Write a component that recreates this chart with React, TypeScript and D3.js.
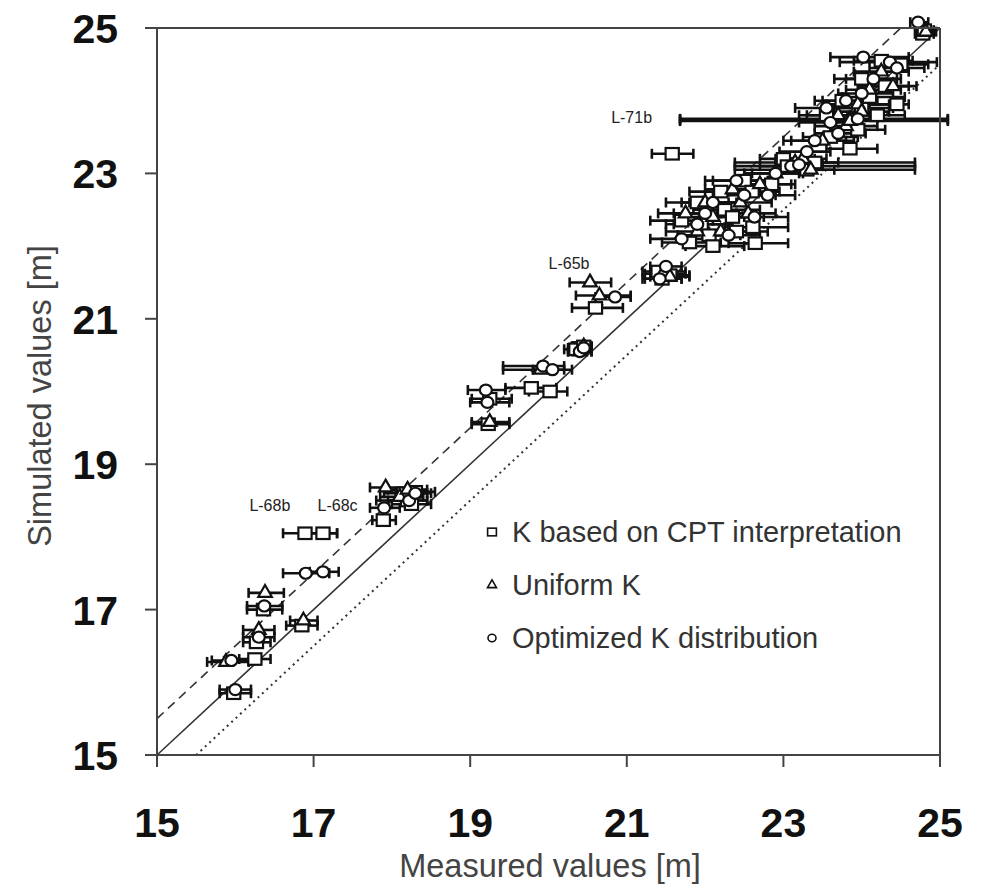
import * as d3 from "d3";

// measured, simulated, error bar low, error bar high (all in m)
type Pt = [number, number, number, number];

const CPT_POINTS: Pt[] = [
  [15.98, 15.85, 15.8, 16.2],
  [16.25, 16.32, 16.05, 16.45],
  [16.27, 16.55, 16.1, 16.45],
  [16.36, 17.0, 16.15, 16.6],
  [16.85, 16.78, 16.65, 17.05],
  [16.89, 18.05, 16.61, 17.3],
  [17.12, 18.05, 16.95, 17.3],
  [17.89, 18.23, 17.75, 18.05],
  [18.2, 18.5, 17.8, 18.45],
  [18.3, 18.62, 18.05, 18.55],
  [18.15, 18.6, 17.9, 18.45],
  [18.25, 18.45, 18.0, 18.5],
  [19.23, 19.55, 19.02, 19.5],
  [19.25, 19.9, 19.02, 19.53],
  [19.78, 20.05, 19.45, 20.1],
  [20.02, 20.0, 19.75, 20.24],
  [20.4, 20.6, 20.25, 20.55],
  [20.35, 20.58, 20.2, 20.5],
  [20.45, 20.62, 20.3, 20.55],
  [20.6, 21.15, 20.3, 20.95],
  [21.45, 21.55, 21.23, 21.7],
  [21.4, 21.65, 21.2, 21.75],
  [21.55, 21.6, 21.3, 21.8],
  [21.58, 23.27, 21.32, 21.85],
  [21.7, 22.35, 21.3, 22.1],
  [21.8, 22.05, 21.45, 22.2],
  [21.9, 22.6, 21.5, 22.3],
  [21.95, 22.3, 21.6, 22.35],
  [22.05, 22.15, 21.65, 22.45],
  [22.1, 22.0, 21.75, 22.5],
  [22.2, 22.75, 21.8, 22.6],
  [22.25, 22.5, 21.85, 22.7],
  [22.35, 22.4, 22.0, 22.75],
  [22.4, 22.2, 22.05, 22.8],
  [22.5, 22.9, 22.1, 22.9],
  [22.61, 22.26, 22.25, 23.06],
  [22.64, 22.04, 22.3, 23.06],
  [22.6, 22.75, 22.3, 22.95],
  [22.85, 22.85, 22.55, 23.15],
  [23.0, 23.2, 22.7, 23.4],
  [23.05, 23.1, 22.7, 23.45],
  [23.2, 23.1, 22.9, 23.5],
  [23.3, 23.05, 22.38, 24.68],
  [23.4, 23.15, 23.1, 23.7],
  [23.55, 23.8, 23.2, 23.95],
  [23.6, 23.5, 23.25, 23.95],
  [23.75, 24.0, 23.4, 24.15],
  [23.85, 23.34, 23.55, 24.2],
  [23.9, 23.74, 21.68, 25.1],
  [23.95, 23.6, 23.6, 24.3],
  [24.0, 23.9, 23.65, 24.4],
  [24.0, 24.3, 23.65, 24.45],
  [24.1, 24.05, 23.75, 24.55],
  [24.2, 23.8, 23.85, 24.55],
  [24.25, 24.55, 23.9, 24.65],
  [24.3, 24.2, 23.95, 24.6],
  [24.45, 23.95, 24.1, 24.6],
  [24.5, 24.5, 24.2, 24.85],
  [24.78, 24.92, 24.68, 24.92],
  [24.8, 24.97, 24.7, 24.92],
];

const UNIFORM_POINTS: Pt[] = [
  [15.88, 16.28, 15.64, 16.17],
  [16.3, 16.72, 16.1, 16.5],
  [16.38, 17.23, 16.17, 16.62],
  [16.87, 16.85, 16.7, 17.05],
  [17.92, 18.68, 17.72, 18.2],
  [18.1, 18.55, 17.85, 18.4],
  [18.2, 18.65, 17.95, 18.45],
  [19.25, 19.58, 19.02, 19.5],
  [19.9, 20.3, 19.42, 20.2],
  [20.4, 20.55, 20.25, 20.55],
  [20.45, 20.62, 20.3, 20.55],
  [20.53, 21.5, 20.27, 20.8],
  [20.65, 21.32, 20.35, 21.05],
  [21.46, 21.62, 21.23, 21.75],
  [21.55, 21.58, 21.3, 21.8],
  [21.75, 22.45, 21.4, 22.15],
  [21.9, 22.2, 21.5, 22.3],
  [22.0, 22.6, 21.7, 22.4],
  [22.1, 22.4, 21.7, 22.5],
  [22.2, 22.2, 21.9, 22.6],
  [22.35, 22.78, 22.0, 22.7],
  [22.45, 22.6, 22.1, 22.85],
  [22.55, 22.45, 22.2, 22.9],
  [22.7, 22.85, 22.4, 23.1],
  [22.9, 23.0, 22.6, 23.2],
  [23.15, 23.15, 22.38, 24.68],
  [23.25, 23.2, 22.9, 23.55],
  [23.35, 23.05, 23.0, 23.65],
  [23.5, 23.45, 23.1, 23.9],
  [23.7, 23.8, 23.3, 24.1],
  [23.8, 23.65, 23.4, 24.2],
  [23.85, 23.72, 21.68, 25.1],
  [23.95, 23.95, 23.55, 24.35],
  [24.0, 23.85, 23.7, 24.35],
  [24.1, 24.15, 23.8, 24.5],
  [24.25, 24.4, 23.9, 24.6],
  [24.4, 24.2, 24.05, 24.7],
  [24.82, 24.95, 24.72, 24.95],
];

const OPTIMIZED_POINTS: Pt[] = [
  [16.0, 15.9, 15.8, 16.2],
  [15.95, 16.3, 15.7, 16.2],
  [16.3, 16.62, 16.1, 16.5],
  [16.37, 17.05, 16.15, 16.6],
  [16.9, 17.5, 16.61, 17.2],
  [17.12, 17.52, 16.95, 17.32],
  [17.9, 18.4, 17.72, 18.1],
  [18.22, 18.5, 17.95, 18.45],
  [18.3, 18.6, 18.05, 18.5],
  [19.2, 20.02, 18.97, 19.45],
  [19.22, 19.85, 19.0, 19.5],
  [19.93, 20.35, 19.42, 20.2],
  [20.05, 20.3, 19.8, 20.3],
  [20.4, 20.55, 20.25, 20.55],
  [20.45, 20.6, 20.3, 20.55],
  [20.85, 21.3, 20.6, 21.05],
  [21.42, 21.55, 21.2, 21.7],
  [21.5, 21.72, 21.3, 21.7],
  [21.7, 22.1, 21.3, 22.1],
  [21.9, 22.3, 21.5, 22.3],
  [22.0, 22.45, 21.6, 22.4],
  [22.1, 22.6, 21.8, 22.5],
  [22.3, 22.15, 22.0, 22.7],
  [22.4, 22.9, 22.0, 22.8],
  [22.5, 22.7, 22.1, 22.9],
  [22.63, 22.4, 22.3, 23.06],
  [22.8, 22.7, 22.45, 23.15],
  [22.9, 23.0, 22.5, 23.25],
  [23.1, 23.1, 22.38, 24.68],
  [23.2, 23.12, 22.9, 23.5],
  [23.3, 23.3, 22.95, 23.6],
  [23.4, 23.45, 23.0, 23.8],
  [23.55, 23.9, 23.15, 23.95],
  [23.6, 23.7, 23.2, 24.0],
  [23.7, 23.55, 23.4, 24.05],
  [23.8, 24.0, 23.5, 24.2],
  [23.95, 23.75, 21.68, 25.1],
  [24.0, 24.1, 23.7, 24.4],
  [24.02, 24.6, 23.6, 24.6],
  [24.15, 24.3, 23.8, 24.5],
  [24.36, 24.53, 23.72, 24.96],
  [24.45, 24.45, 24.1, 24.8],
  [24.72, 25.08, 24.62, 24.85],
];

const TICKS = [15, 17, 19, 21, 23, 25];

const LEGEND = ["K based on CPT interpretation", "Uniform K", "Optimized K distribution"];

// label text, measured, simulated (position of the text start / baseline)
const ANNOTATIONS: [string, number, number][] = [
  ["L-71b", 20.8, 23.7],
  ["L-65b", 20.0, 21.68],
  ["L-68b", 16.18, 18.35],
  ["L-68c", 17.05, 18.35],
];

const FONT = "'Liberation Sans', Arial, sans-serif";

function Marker({ kind, cx, cy, s, sw }: { kind: number; cx: number; cy: number; s: number; sw: number }) {
  if (kind === 0)
    return <rect x={cx - s * 0.55} y={cy - s * 0.48} width={s * 1.1} height={s * 0.96} fill="#fff" stroke="#111" strokeWidth={sw} />;
  if (kind === 1) {
    const tri = d3.symbol(d3.symbolTriangle, s * s * 0.55)();
    return <path d={tri ?? ""} transform={`translate(${cx},${cy})`} fill="#fff" stroke="#111" strokeWidth={sw} />;
  }
  return <ellipse cx={cx} cy={cy} rx={s * 0.5} ry={s * 0.46} fill="#fff" stroke="#111" strokeWidth={sw} />;
}

export default function App() {
  const width = 981;
  const height = 885;

  const x = d3.scaleLinear().domain([15, 25]).range([157, 940]);
  const y = d3.scaleLinear().domain([15, 25]).range([755, 28]);

  const series = [CPT_POINTS, UNIFORM_POINTS, OPTIMIZED_POINTS];

  const line = d3.line<[number, number]>().x((d) => x(d[0])).y((d) => y(d[1]));

  return (
    <svg
      width={width}
      height={height}
      style={{ position: "absolute", left: 0, top: 0, background: "#fff" }}
      fontFamily={FONT}
    >
      <rect width={width} height={height} fill="#fff" />

      {/* reference lines */}
      <path d={line([[15, 15], [25, 25]]) ?? ""} stroke="#333" strokeWidth={1.6} fill="none" />
      <path d={line([[15, 15.5], [24.5, 25]]) ?? ""} stroke="#333" strokeWidth={1.6} strokeDasharray="9 6" fill="none" />
      <path d={line([[15.5, 15], [25, 24.5]]) ?? ""} stroke="#333" strokeWidth={2} strokeDasharray="2 4" fill="none" />

      {/* error bars */}
      {series.map((pts, si) =>
        pts.map((p, i) => (
          <g key={`e${si}-${i}`} stroke="#111" strokeWidth={2.6}>
            <line x1={x(p[2])} x2={x(p[3])} y1={y(p[1])} y2={y(p[1])} />
            <line x1={x(p[2])} x2={x(p[2])} y1={y(p[1]) - 5} y2={y(p[1]) + 5} />
            <line x1={x(p[3])} x2={x(p[3])} y1={y(p[1]) - 5} y2={y(p[1]) + 5} />
          </g>
        ))
      )}

      {/* markers */}
      {series.map((pts, si) =>
        pts.map((p, i) => <Marker key={`m${si}-${i}`} kind={si} cx={x(p[0])} cy={y(p[1])} s={12} sw={2.2} />)
      )}

      {/* frame */}
      <g stroke="#444" strokeWidth={2} fill="none">
        <line x1={x(15)} x2={x(25)} y1={y(25)} y2={y(25)} />
        <line x1={x(25)} x2={x(25)} y1={y(25)} y2={y(15)} />
        <line x1={x(15)} x2={x(25)} y1={y(15)} y2={y(15)} />
        <line x1={x(15)} x2={x(15)} y1={y(25)} y2={y(15)} />
      </g>

      {/* ticks */}
      {TICKS.map((t) => (
        <g key={`t${t}`}>
          <line x1={x(t)} x2={x(t)} y1={y(15)} y2={y(15) + 12} stroke="#444" strokeWidth={2} />
          <line x1={x(15) - 12} x2={x(15)} y1={y(t)} y2={y(t)} stroke="#444" strokeWidth={2} />
          <text x={x(t)} y={837} textAnchor="middle" fontSize={41} fontWeight="bold" fill="#111">
            {t}
          </text>
          <text x={118} y={y(t) + 15} textAnchor="end" fontSize={41} fontWeight="bold" fill="#111">
            {t}
          </text>
        </g>
      ))}

      {/* axis titles */}
      <text x={550} y={877} textAnchor="middle" fontSize={32.5} fill="#444">
        Measured values [m]
      </text>
      <text transform="translate(51,396) rotate(-90)" textAnchor="middle" fontSize={32.5} fill="#444">
        Simulated values [m]
      </text>

      {/* annotations */}
      {ANNOTATIONS.map(([label, ax, ay]) => (
        <text key={label} x={x(ax)} y={y(ay)} fontSize={16} fill="#222">
          {label}
        </text>
      ))}

      {/* legend */}
      {LEGEND.map((label, i) => (
        <g key={label}>
          <Marker kind={i} cx={492} cy={532 + i * 53} s={8} sw={1.6} />
          <text x={512} y={542 + i * 53} fontSize={29} fill="#333">
            {label}
          </text>
        </g>
      ))}
    </svg>
  );
}
